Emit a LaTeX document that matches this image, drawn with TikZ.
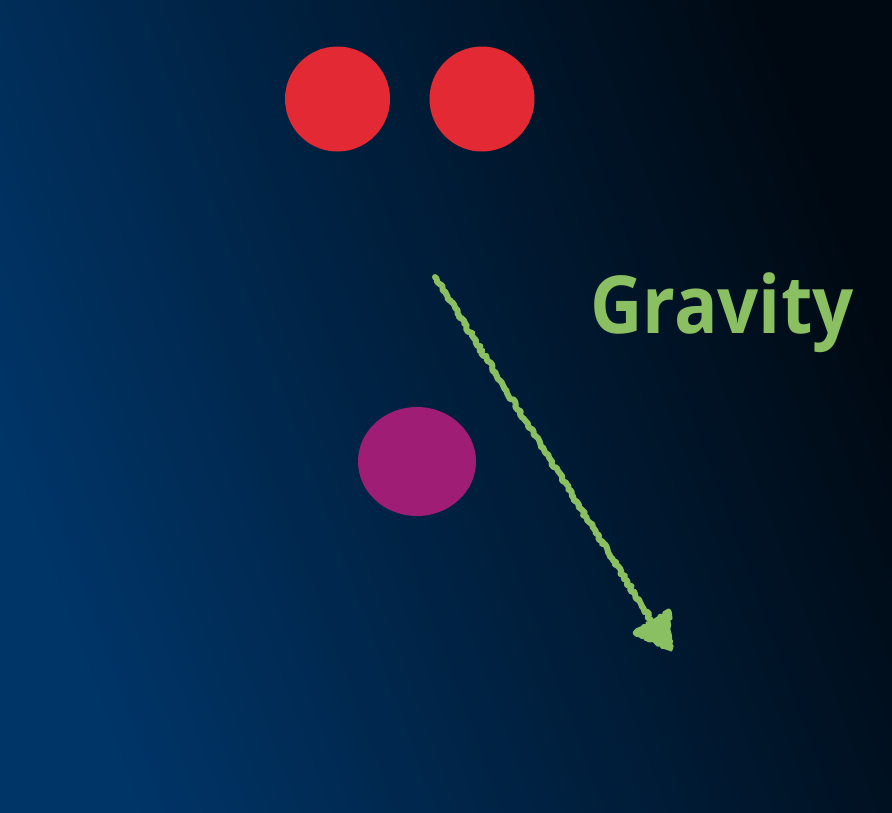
\documentclass[tikz,border=0pt]{standalone}
\usepackage{fontspec}
\setmainfont{Open Sans}
\usetikzlibrary{decorations.pathmorphing,shapes.geometric}
\definecolor{bgA}{HTML}{003568}
\definecolor{bgB}{HTML}{000912}
\definecolor{redball}{HTML}{E32933}
\definecolor{purpleball}{HTML}{A01D76}
\definecolor{gravgreen}{HTML}{8BC062}
\pgfdeclarehorizontalshading{bgsh}{100bp}{color(0bp)=(bgA); color(25bp)=(bgA); color(75bp)=(bgB); color(100bp)=(bgB)}
\tikzset{
  ball/.style={circle, inner sep=0pt, minimum size=105pt},
  sketchy/.style={decorate, decoration={random steps, segment length=2.5pt, amplitude=1.6pt}, line join=round, line cap=round},
  labeltext/.style={font=\bfseries\fontsize{80}{96}\selectfont, text=gravgreen, inner sep=0pt}
}
\begin{document}
\begin{tikzpicture}[x=1pt, y=-1pt]
\pgfmathsetseed{7}
\useasboundingbox (0,0) rectangle (892,812);
\fill[shading=bgsh, shading angle=20] (0,0) rectangle (892,812);
\node[ball, fill=redball] (r1) at (337.5,99) {};
\node[ball, fill=redball] (r2) at (482,99) {};
\node[ellipse, fill=purpleball, inner sep=0pt, minimum width=118pt, minimum height=109pt] (p) at (417,461.5) {};
\node[labeltext, anchor=base west] (g) at (590,333) {\scalebox{0.905}[1]{Gravity}};
\coordinate (s) at (435,277);
\coordinate (b) at (651,620);
\coordinate (h1) at (634,633);
\coordinate (h2) at (669,610);
\coordinate (t) at (671,650);
\draw[sketchy, gravgreen, line width=6pt] (s) -- (b);
\filldraw[sketchy, gravgreen, line width=3pt] (h1) -- (h2) -- (t) -- cycle;
\end{tikzpicture}
\end{document}
